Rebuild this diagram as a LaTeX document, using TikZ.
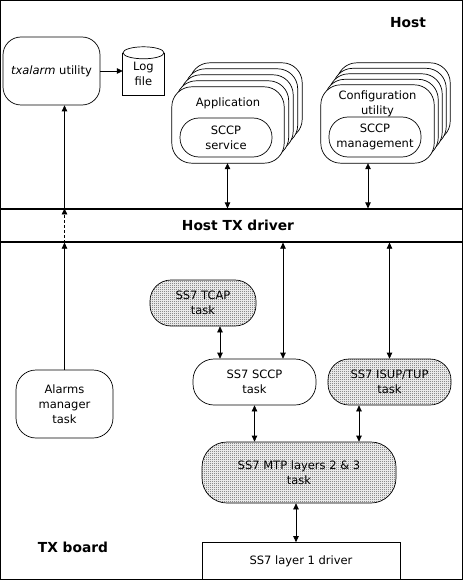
\documentclass[tikz,border=0pt]{standalone}
\usepackage{fontspec}
\setmainfont{DejaVu Sans}
\usetikzlibrary{arrows.meta,patterns}

% fine checker screen for the board tasks
\pgfdeclarepatternformonly{screendots}{\pgfqpoint{0pt}{0pt}}{\pgfqpoint{2pt}{2pt}}{\pgfqpoint{2pt}{2pt}}{
   \pgfpathrectangle{\pgfqpoint{0pt}{0pt}}{\pgfqpoint{1pt}{1pt}}
   \pgfpathrectangle{\pgfqpoint{1pt}{1pt}}{\pgfqpoint{1pt}{1pt}}
   \pgfusepath{fill}}

\begin{document}
\begin{tikzpicture}[x=1pt,y=-1pt,
   >={Triangle[length=6pt,width=5.5pt]},
   every node/.style={font=\fontsize{11.5}{15}\selectfont,align=center,inner sep=0pt},
   head/.style={font=\fontsize{13.8}{16}\selectfont\bfseries},
   frame/.style={draw,line width=1.2pt},
   procbox/.style={draw,fill=white,line width=0.7pt,rounded corners=#1},
   procbox/.default=19pt,
   dotted box/.style={pattern=screendots,pattern color=black!70},
   link/.style={line width=0.7pt}]

   \useasboundingbox (0,0) rectangle (463,580);
   \draw [frame] (0.6,0.6) rectangle (462.4,579.4);

   % host side
   \node (hostlabel) [head] at (408,23) {Host};
   \node (txalarm) [procbox=18pt,minimum width=97pt,minimum height=68pt] at (51.5,71) {\textit{txalarm} utility};
   \node (logfile) [minimum width=41pt,minimum height=42pt] at (143.5,74) {Log\\file};
   \draw [line width=0.7pt] (logfile.north west) -- (logfile.south west) -- (logfile.south east) -- (logfile.north east);
   \draw [line width=0.7pt,fill=white] (logfile.north) ellipse [x radius=20.5,y radius=6];

   % stacked application windows
   \node (appfront) [minimum width=112pt,minimum height=76pt] at (228,125) {};
   \foreach \k in {4,3,2,1}
      \draw [procbox=20pt] ([shift={(4.5*\k,-6*\k)}]appfront.south west) rectangle ([shift={(4.5*\k,-6*\k)}]appfront.north east);
   \draw [procbox=20pt] (appfront.south west) rectangle (appfront.north east);
   \node (apptitle) at (228,103) {Application};
   \node (appsccp) [procbox,minimum width=92pt,minimum height=39pt] at (226,137.5) {SCCP\\service};

   \node (cfgfront) [minimum width=113pt,minimum height=78pt] at (377.5,124) {};
   \foreach \k in {4,3,2,1}
      \draw [procbox=20pt] ([shift={(4*\k,-5.5*\k)}]cfgfront.south west) rectangle ([shift={(4*\k,-5.5*\k)}]cfgfront.north east);
   \draw [procbox=20pt] (cfgfront.south west) rectangle (cfgfront.north east);
   \node (cfgtitle) at (377.5,103.5) {Configuration\\utility};
   \node (cfgsccp) [procbox,minimum width=92pt,minimum height=40pt] at (375,137) {SCCP\\management};

   % driver band
   \node (hostdrv) [frame,minimum width=461.8pt,minimum height=33pt] at (231.5,225.5) {};
   \node (drvlabel) [head] at (238,225.5) {Host TX driver};

   % board side
   \node (tcap) [procbox=21pt,dotted box,minimum width=106pt,minimum height=46pt] at (203,303) {SS7 TCAP\\task};
   \node (sccp) [procbox=21pt,minimum width=123pt,minimum height=46pt] at (254.5,382) {SS7 SCCP\\task};
   \node (isup) [procbox=21pt,dotted box,minimum width=123pt,minimum height=46pt] at (389.5,382) {SS7 ISUP/TUP\\task};
   \node (alarms) [procbox=20pt,minimum width=97pt,minimum height=68pt] at (64.5,404) {Alarms\\manager\\task};
   \node (mtp) [procbox=25pt,dotted box,minimum width=194pt,minimum height=61pt] at (299,472.5) {SS7 MTP layers 2 \& 3\\task};
   \node (layer1) [draw,line width=0.7pt,minimum width=198pt,minimum height=37pt] at (301,561) {SS7 layer 1 driver};
   \node (boardlabel) [head] at (73,547) {TX board};

   % connectors
   \draw [link,->] (txalarm.east) -- (txalarm.east -| logfile.west);
   \draw [link,<->] ([xshift=-0.5pt]appfront.south) -- ([xshift=-0.5pt]appfront.south |- hostdrv.north);
   \draw [link,<->] ([xshift=-9.5pt]cfgfront.south) -- ([xshift=-9.5pt]cfgfront.south |- hostdrv.north);

   \draw [link,->] (alarms.north) -- (alarms.north |- hostdrv.south);
   \draw [link,->,dash pattern=on 3pt off 2pt] (alarms.north |- hostdrv.south) -- (alarms.north |- hostdrv.north);
   \draw [link,->] (alarms.north |- hostdrv.north) -- (alarms.north |- txalarm.south);

   \draw [link,<->] ([xshift=17pt]tcap.south) -- ([xshift=17pt]tcap.south |- sccp.north);
   \draw [link,<->] ([xshift=28.5pt]sccp.north |- hostdrv.south) -- ([xshift=28.5pt]sccp.north);
   \draw [link,<->] (isup.north |- hostdrv.south) -- (isup.north);
   \draw [link,<->] (sccp.south) -- (sccp.south |- mtp.north);
   \draw [link,<->] ([xshift=-30.5pt]isup.south) -- ([xshift=-30.5pt]isup.south |- mtp.north);
   \draw [link,<->] ([xshift=-3pt]mtp.south) -- ([xshift=-3pt]mtp.south |- layer1.north);

\end{tikzpicture}
\end{document}
